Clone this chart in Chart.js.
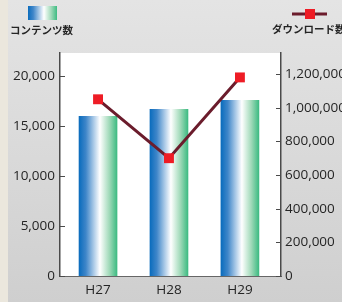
<!DOCTYPE html>
<html>
<head>
<meta charset="utf-8">
<script src="https://cdn.jsdelivr.net/npm/chart.js@4"></script>
<style>
  html, body { margin: 0; padding: 0; }
  body {
    width: 342px; height: 302px; overflow: hidden;
    background: linear-gradient(#e4e4e4, #cfcfcf);
  }
  #strip { position: absolute; left: 0; top: 0; width: 8px; height: 302px; background: #ebe7dd; }
  #wrap { position: absolute; left: 0; top: 0; width: 342px; height: 302px; }
</style>
</head>
<body>
<div id="strip"></div>
<div id="wrap"><canvas id="c" width="342" height="302"></canvas></div>
<script>
const labels = ['H27', 'H28', 'H29'];
const contents = [16000, 16700, 17600];
const downloads = [1050000, 700000, 1180000];
const leftTicks = [0, 5000, 10000, 15000, 20000];
const rightTicks = [0, 200000, 400000, 600000, 800000, 1000000, 1200000];
const barLegend = 'コンテンツ数';
const lineLegend = 'ダウンロード数';

const tickFont = { family: '"Open Sans", sans-serif', size: 13.5, weight: 500 };
const textColor = '#252525';
const axisColor = '#4a4a4a';
const lineColor = '#6b1c2c';
const markColor = '#ee1c25';

function barGradient(ctx, x0, x1) {
    const g = ctx.createLinearGradient(x0, 0, x1, 0);
    g.addColorStop(0, '#0a6cbd');
    g.addColorStop(0.18, '#3f86c9');
    g.addColorStop(0.55, '#ffffff');
    g.addColorStop(0.8, '#9fd9b8');
    g.addColorStop(1, '#3dbb82');
    return g;
}

const decor = {
    id: 'decor',
    beforeDraw(chart) {
        const { ctx, chartArea: a } = chart;
        ctx.save();
        ctx.fillStyle = '#ffffff';
        ctx.fillRect(a.left, a.top, a.right - a.left, a.bottom - a.top);
        ctx.restore();
    },
    afterDraw(chart) {
        const { ctx, chartArea: a } = chart;
        ctx.save();
        ctx.strokeStyle = axisColor;
        ctx.lineWidth = 1;
        const ly = chart.scales.y;
        ly.ticks.forEach(t => {
            const p = Math.round(ly.getPixelForValue(t.value)) + 0.5;
            ctx.beginPath(); ctx.moveTo(a.left, p); ctx.lineTo(a.left + 5, p); ctx.stroke();
        });
        const ry = chart.scales.y1;
        ry.ticks.forEach(t => {
            const p = Math.round(ry.getPixelForValue(t.value)) + 0.5;
            ctx.beginPath(); ctx.moveTo(a.right - 5, p); ctx.lineTo(a.right, p); ctx.stroke();
        });

        // legends
        ctx.fillStyle = barGradient(ctx, 28, 57);
        ctx.fillRect(28, 6, 29, 14);
        ctx.fillStyle = textColor;
        ctx.font = 'bold 10.5px "Noto Sans CJK JP", sans-serif';
        ctx.textBaseline = 'middle';
        ctx.fillText(barLegend, 10, 30);

        ctx.strokeStyle = lineColor;
        ctx.lineWidth = 3;
        ctx.beginPath(); ctx.moveTo(292, 14); ctx.lineTo(327, 14); ctx.stroke();
        ctx.fillStyle = markColor;
        ctx.fillRect(305, 9, 10, 10);
        ctx.fillStyle = textColor;
        ctx.fillText(lineLegend, 272, 29);
        ctx.restore();
    }
};

new Chart(document.getElementById('c'), {
    data: {
        datasets: [{
            type: 'line',
            label: lineLegend,
            data: downloads.map((v, i) => ({ x: i, y: v })),
            yAxisID: 'y1',
            borderColor: lineColor,
            borderWidth: 3,
            pointStyle: 'rect',
            pointRadius: 7,
            pointBackgroundColor: markColor,
            pointBorderWidth: 0,
            tension: 0,
            order: 0
        }, {
            type: 'bar',
            label: barLegend,
            data: contents.map((v, i) => ({ x: i, y: v })),
            yAxisID: 'y',
            barThickness: 38,
            order: 1,
            backgroundColor: function (c) {
                const chart = c.chart;
                if (!chart.chartArea || !chart.scales.x) return '#0a6cbd';
                const cx = chart.scales.x.getPixelForValue(c.dataIndex);
                return barGradient(chart.ctx, cx - 19, cx + 19);
            }
        }]
    },
    options: {
        responsive: false,
        animation: false,
        layout: { padding: { top: 53, left: 0, right: 0, bottom: 0 } },
        plugins: { legend: { display: false }, tooltip: { enabled: false } },
        scales: {
            x: {
                type: 'linear',
                offset: false,
                min: -0.536, max: 2.579,
                grid: { display: false, drawTicks: false, offset: false },
                border: { display: true, color: '#666', width: 1 },
                ticks: { color: textColor, font: tickFont, padding: 6,
                    callback: v => labels[v] },
                afterBuildTicks(s) { s.ticks = labels.map((l, i) => ({ value: i })); },
                afterFit(s) { s.height = 26; }
            },
            y: {
                position: 'left',
                min: 0, max: 22350,
                grid: { display: false, drawTicks: false },
                border: { display: true, color: axisColor, width: 1.5 },
                ticks: { color: textColor, font: tickFont, padding: 5,
                    callback: v => v.toLocaleString('en-US') },
                afterBuildTicks(s) { s.ticks = leftTicks.map(v => ({ value: v })); },
                afterFit(s) { s.width = 60; }
            },
            y1: {
                position: 'right',
                min: 0, max: 1325000,
                grid: { display: false, drawTicks: false },
                border: { display: true, color: axisColor, width: 1.5 },
                ticks: { color: textColor, font: tickFont, padding: 4,
                    callback: v => v.toLocaleString('en-US') },
                afterBuildTicks(s) { s.ticks = rightTicks.map(v => ({ value: v })); },
                afterFit(s) { s.width = 61; }
            }
        }
    },
    plugins: [decor]
});
</script>
</body>
</html>
